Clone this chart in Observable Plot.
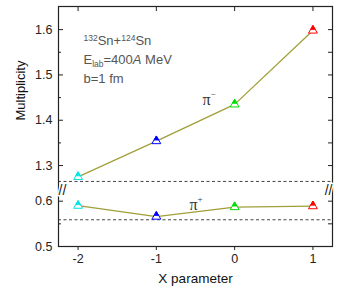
<!DOCTYPE html>
<html><head><meta charset="utf-8">
<script src="https://cdn.jsdelivr.net/npm/d3@7"></script>
<script src="https://cdn.jsdelivr.net/npm/@observablehq/plot@0.6"></script>
<style>body{margin:0;background:#fff} svg{display:block}</style>
</head><body><div id="chart"></div>
<script>
const xParams = [-2, -1, 0, 1];
const piMinus = [1.275, 1.354, 1.435, 1.598];
const piPlus = [0.590, 0.566, 0.587, 0.589];
const pointColors = ["#00e5e5", "#0000ff", "#00dd00", "#ff0000"];
const refLines = [1.265, 0.559];
const yTicks = [0.5, 0.6, 1.3, 1.4, 1.5, 1.6];
const yMinor = [0.55, 1.35, 1.45, 1.55];
const breakLow = 0.6236, breakHigh = 1.245, yTop = 1.651;
const gap = breakHigh - breakLow;
const fold = v => v >= breakHigh ? v - gap : v;
const unfold = v => v > breakLow + 1e-9 ? v + gap : v;

const minusData = xParams.map((x, i) => ({x, y: piMinus[i], c: pointColors[i]}));
const plusData = xParams.map((x, i) => ({x, y: piPlus[i], c: pointColors[i]}));
const allPts = minusData.concat(plusData);
const Y = d => fold(d.y);

const halfTri = {
  draw(ctx, size) {
    const a = Math.sqrt(size / (Math.sqrt(3) * 3));
    const yc = -0.4 * a;
    const h = Math.sqrt(3) * a * (yc + 2 * a) / (3 * a);
    ctx.moveTo(0, -2 * a);
    ctx.lineTo(h, yc);
    ctx.lineTo(-h, yc);
    ctx.closePath();
  }
};

const none = () => "";
const lineColor = "#a09f3a";

const plot = Plot.plot({
  width: 351, height: 291,
  marginLeft: 58, marginRight: 19, marginTop: 6, marginBottom: 45,
  style: {fontFamily: "'Liberation Sans', Arial, sans-serif", fontSize: "12px", color: "#222", background: "#fff"},
  x: {domain: [-2.25, 1.25]},
  y: {domain: [0.5, fold(yTop)]},
  marks: [
    Plot.ruleY(refLines.map(fold), {stroke: "#444", strokeDasharray: "3,2.5", strokeWidth: 1}),
    Plot.line(minusData, {x: "x", y: Y, stroke: lineColor, strokeWidth: 1.3}),
    Plot.line(plusData, {x: "x", y: Y, stroke: lineColor, strokeWidth: 1.3}),
    Plot.dot(allPts, {x: "x", y: Y, symbol: "triangle", r: 3.3, fill: "#fff", stroke: "c", strokeWidth: 1}),
    Plot.dot(allPts, {x: "x", y: Y, symbol: halfTri, r: 3.3, fill: "c", stroke: "c", strokeWidth: 0.8}),
    Plot.frame({stroke: "#222", strokeWidth: 1.2}),
    Plot.axisX({ticks: xParams, tickSize: 4, tickPadding: 4, tickFormat: d => String(d), label: null, fontSize: 12.5}),
    Plot.axisX({anchor: "top", ticks: xParams, tickSize: -4, tickFormat: none, label: null}),
    Plot.axisY({ticks: yTicks.map(fold), tickSize: -5, tickPadding: 11, tickFormat: d => d3.format(".1f")(unfold(d)), label: null, fontSize: 12.5}),
    Plot.axisY({ticks: yMinor.map(fold), tickSize: -3, tickFormat: none, label: null}),
    Plot.axisY({anchor: "right", ticks: yTicks.concat(yMinor).map(fold), tickSize: -5, tickFormat: none, label: null}),
    Plot.text(["//"], {frameAnchor: "left", dy: 64, fontSize: 14, fill: "#222", stroke: "#fff", strokeWidth: 3}),
    Plot.text(["//"], {frameAnchor: "right", dy: 64, fontSize: 14, fill: "#222", stroke: "#fff", strokeWidth: 3}),
    Plot.text(["Multiplicity"], {frameAnchor: "left", dx: -38, dy: -6, rotate: -90, fontSize: 13, fill: "#111"}),
    Plot.text(["X parameter"], {frameAnchor: "bottom", dy: 36, fontSize: 13.5, fill: "#111"}),
    Plot.text(["132Sn+124Sn"], {frameAnchor: "top-left", dx: 25, dy: 29, textAnchor: "start", fontSize: 13, fill: "#555", className: "ann1"}),
    Plot.text(["Elab=400A MeV"], {frameAnchor: "top-left", dx: 25, dy: 48, textAnchor: "start", fontSize: 13, fill: "#555", className: "ann2"}),
    Plot.text(["b=1 fm"], {frameAnchor: "top-left", dx: 25, dy: 67, textAnchor: "start", fontSize: 13, fill: "#555", className: "ann3"}),
    Plot.text(["π-"], {frameAnchor: "top-left", dx: 144, dy: 87, textAnchor: "start", fontSize: 16, fill: "#333", fontFamily: "'Liberation Serif', 'DejaVu Serif', serif", className: "piminus"}),
    Plot.text(["π+"], {frameAnchor: "top-left", dx: 131, dy: 192, textAnchor: "start", fontSize: 16, fill: "#333", fontFamily: "'Liberation Serif', 'DejaVu Serif', serif", className: "piplus"})
  ]
});
document.getElementById("chart").appendChild(plot);

const svg = d3.select(plot);
function rich(cls, parts) {
  const t = svg.select(`g.${cls} text`);
  t.text(null);
  parts.forEach(p => {
    const ts = t.append("tspan").text(p.t);
    if (p.fs) ts.attr("font-size", p.fs);
    if (p.dy) ts.attr("dy", p.dy);
    if (p.it) ts.attr("font-style", "italic");
  });
}
rich("ann1", [{t: "132", fs: 8.5, dy: -4}, {t: "Sn+", dy: 4}, {t: "124", fs: 8.5, dy: -4}, {t: "Sn", dy: 4}]);
rich("ann2", [{t: "E"}, {t: "lab", fs: 8.5, dy: 3}, {t: "=400", dy: -3}, {t: "A", it: true}, {t: " MeV"}]);
rich("ann3", [{t: "b=1 fm"}]);
rich("piminus", [{t: "π"}, {t: "−", fs: 9, dy: -8}]);
rich("piplus", [{t: "π"}, {t: "+", fs: 9, dy: -8}]);
</script>
</body></html>
